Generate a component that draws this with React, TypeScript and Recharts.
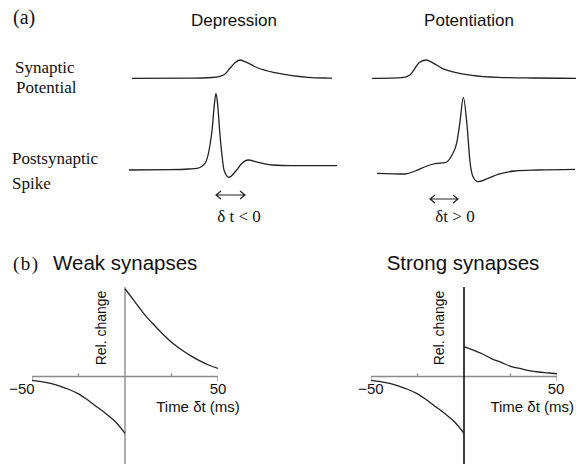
import { Line, LineChart, ReferenceLine, XAxis, YAxis } from 'recharts'

// (a) traces: time in arbitrary units, value above resting baseline
const depPspT = [0, 60, 80, 88, 93, 98, 103, 108, 113, 126, 143, 160, 176, 193, 200]
const depPspV = [0, 0.2, 0.8, 2, 4.3, 10, 15.6, 18.3, 16.6, 10.3, 5.6, 2.6, 1, 0.3, 0.2]

const depSpikeT = [0, 40, 60, 68, 76, 81, 83.3, 85.3, 87, 88.7, 91, 93.3, 95, 100, 106, 113, 119, 129, 143, 163, 208]
const depSpikeV = [0, 0.3, 1, 1.7, 6.7, 25, 42, 65, 76.7, 65, 35, 12, 0, -7.3, -2, 6.7, 10, 7.7, 5, 4.3, 4.3]

const potPspT = [0, 20, 30, 38, 43, 47, 54, 60, 70, 83, 100, 126, 160, 204]
const potPspV = [0, 0.2, 0.6, 3.3, 10, 15.6, 18.3, 16, 10, 6, 3, 1, 0.3, 0]

const potSpikeT = [0, 28, 38, 50, 58, 68, 75, 80, 83, 86.3, 90, 93, 96, 101, 111, 121, 138, 161, 198]
const potSpikeV = [0, -0.7, 2.3, 7.3, 9.6, 10.6, 18.3, 31.6, 51.6, 76, 48.3, 11.6, -3.4, -8.4, -5, -1, 2.3, 3.3, 4]

// (b) STDP windows, relative change vs delta t (ms)
const posT = [0, 5, 10, 15, 20, 25, 30, 35, 40, 45, 50]
const weakPos = [1.0, 0.86, 0.72, 0.6, 0.49, 0.39, 0.31, 0.24, 0.18, 0.13, 0.09]
const strongPos = [0.34, 0.3, 0.255, 0.2, 0.16, 0.115, 0.09, 0.066, 0.05, 0.04, 0.03]
const negT = [-50, -45, -40, -35, -30, -25, -20, -15, -10, -5, 0]
const negV = [-0.045, -0.06, -0.08, -0.11, -0.15, -0.2, -0.27, -0.35, -0.43, -0.52, -0.65]
const tickT = [-50, -25, 25, 50]

const SERIF = '"Liberation Serif", "Times New Roman", serif'
const SANS = '"Liberation Sans", Arial, sans-serif'
const INK = '#222'
const GREY = '#8a8a8a'

const zip = (t: number[], v: number[]) => t.map((x, i) => ({ t: x, v: v[i] }))

interface TraceProps {
  t: number[]
  v: number[]
  left: number
  top: number
  width: number
  height: number
  yDomain: [number, number]
}

function Trace({ t, v, left, top, width, height, yDomain }: TraceProps) {
  return (
    <div style={{ position: 'absolute', left, top }}>
      <LineChart width={width} height={height} data={zip(t, v)} margin={{ top: 0, right: 0, bottom: 0, left: 0 }}>
        <XAxis dataKey="t" type="number" domain={[t[0], t[t.length - 1]]} hide />
        <YAxis type="number" domain={yDomain} hide allowDataOverflow />
        <Line dataKey="v" type="monotone" stroke={INK} strokeWidth={1.3} dot={false} isAnimationActive={false} />
      </LineChart>
    </div>
  )
}

interface StdpProps {
  left: number
  pos: number[]
  strongAxis?: boolean
}

function Stdp({ left, pos, strongAxis }: StdpProps) {
  return (
    <div style={{ position: 'absolute', left, top: 287 }}>
      <LineChart width={186} height={177} margin={{ top: 0, right: 0, bottom: 0, left: 0 }}>
        <XAxis dataKey="t" type="number" domain={[-50, 50]} hide allowDataOverflow />
        <YAxis type="number" domain={[-1, 1.02]} hide allowDataOverflow />
        <ReferenceLine y={0} stroke={GREY} strokeWidth={1.5} />
        {tickT.map((x) => (
          <ReferenceLine
            key={x}
            segment={[{ x, y: 0 }, { x, y: Math.abs(x) === 50 ? -0.055 : 0.035 }]}
            stroke={GREY}
            strokeWidth={1.2}
          />
        ))}
        <ReferenceLine x={0} stroke={strongAxis ? '#111' : GREY} strokeWidth={strongAxis ? 1.6 : 1.4} />
        <Line data={zip(posT, pos)} dataKey="v" type="monotone" stroke={INK} strokeWidth={1.3} dot={false} isAnimationActive={false} />
        <Line data={zip(negT, negV)} dataKey="v" type="monotone" stroke={INK} strokeWidth={1.3} dot={false} isAnimationActive={false} />
      </LineChart>
    </div>
  )
}

export default function App() {
  return (
    <div style={{ position: 'absolute', left: 0, top: 0, width: 576, height: 464, background: '#fff', overflow: 'hidden' }}>
      <Trace t={depPspT} v={depPspV} left={132} top={55} width={200} height={30} yDomain={[-6.7, 23.3]} />
      <Trace t={depSpikeT} v={depSpikeV} left={129} top={88} width={208} height={95} yDomain={[-13, 82]} />
      <Trace t={potPspT} v={potPspV} left={372} top={55} width={204} height={30} yDomain={[-6.7, 23.3]} />
      <Trace t={potSpikeT} v={potSpikeV} left={377} top={88} width={198} height={100} yDomain={[-14.7, 85.3]} />

      <Stdp left={32} pos={weakPos} />
      <Stdp left={371} pos={strongPos} strongAxis />

      <svg width={576} height={464} style={{ position: 'absolute', left: 0, top: 0, pointerEvents: 'none' }}>
        <g fill="#111" fontFamily={SERIF}>
          <text x={13} y={24} fontSize={20}>(a)</text>
          <text x={15} y={73} fontSize={17}>Synaptic</text>
          <text x={16} y={93} fontSize={17}>Potential</text>
          <text x={12} y={164} fontSize={17}>Postsynaptic</text>
          <text x={12} y={189} fontSize={17}>Spike</text>
          <text x={239} y={222} fontSize={17} textAnchor="middle">δ t &lt; 0</text>
          <text x={455} y={222} fontSize={17} textAnchor="middle">δt &gt; 0</text>
          <text x={13} y={270} fontSize={19} letterSpacing={1.5}>(b)</text>
        </g>
        <g fill="#111" fontFamily={SANS}>
          <text x={234} y={26} fontSize={17} textAnchor="middle">Depression</text>
          <text x={469} y={26} fontSize={17} textAnchor="middle">Potentiation</text>
          <text x={53} y={270} fontSize={20.5}>Weak synapses</text>
          <text x={463} y={270} fontSize={20.5} textAnchor="middle">Strong synapses</text>

          <text transform="translate(106,328) rotate(-90)" fontSize={14} textAnchor="middle">Rel. change</text>
          <text x={22} y={394} fontSize={15} textAnchor="middle">−50</text>
          <text x={218} y={394} fontSize={15} textAnchor="middle">50</text>
          <text x={198} y={411.5} fontSize={15} textAnchor="middle">Time δt (ms)</text>

          <text transform="translate(444,328) rotate(-90)" fontSize={14} textAnchor="middle">Rel. change</text>
          <text x={371} y={394} fontSize={15} textAnchor="middle">−50</text>
          <text x={556} y={394} fontSize={15} textAnchor="middle">50</text>
          <text x={574} y={411.5} fontSize={15} textAnchor="end">Time δt (ms)</text>
        </g>
        <g stroke={INK} strokeWidth={1.2} fill="none">
          <path d="M216 195 H245 M221 191 L216 195 L221 199 M240 191 L245 195 L240 199" />
          <path d="M430 199 H458 M435 195 L430 199 L435 203 M453 195 L458 199 L453 203" />
        </g>
      </svg>
    </div>
  )
}
